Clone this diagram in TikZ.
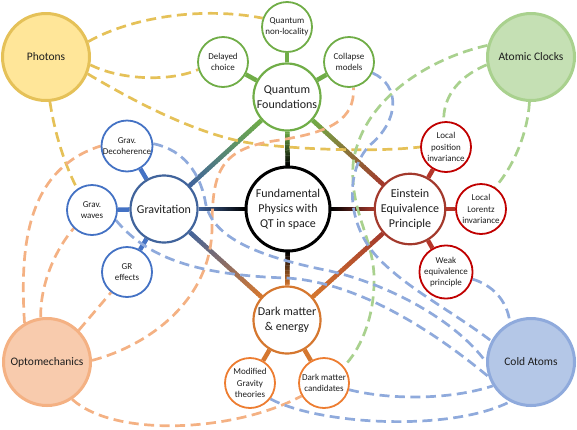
\documentclass[tikz,border=0pt]{standalone}
\usepackage{fontspec}
\setmainfont{Carlito}
\usetikzlibrary{calc}
\pgfdeclarelayer{bg}
\pgfsetlayers{bg,main}
\definecolor{txt}{HTML}{1E1E1E}
\definecolor{qfcol}{HTML}{70AD47}
\definecolor{gravcol}{HTML}{41649C}
\definecolor{gravsat}{HTML}{4472C4}
\definecolor{eepcol}{HTML}{A3392C}
\definecolor{eepsat}{HTML}{C00000}
\definecolor{eepstub}{HTML}{B5362A}
\definecolor{dmcol}{HTML}{D5772F}
\definecolor{dmsat}{HTML}{ED7D31}
\definecolor{phfill}{HTML}{FFE699}
\definecolor{phline}{HTML}{E5C158}
\definecolor{acfill}{HTML}{C5E0B4}
\definecolor{acline}{HTML}{A9D18E}
\definecolor{opfill}{HTML}{F8CBAD}
\definecolor{opline}{HTML}{F4B183}
\definecolor{cafill}{HTML}{B4C7E7}
\definecolor{caline}{HTML}{8FAADC}
\newcommand{\gradconn}[4]{%
  \path (#1) -- (#2) coordinate[pos=0] (gS) coordinate[pos=1] (gE);
  \foreach \i in {0,...,39}{
    \pgfmathsetmacro{\ta}{\i/40}
    \pgfmathsetmacro{\tb}{(\i+1.4)/40}
    \pgfmathtruncatemacro{\pc}{100-100*(\i+0.5)/40}
    \draw[line width=4.5pt, color=#3!\pc!#4] ($(gS)!\ta!(gE)$) -- ($(gS)!\tb!(gE)$);
  }%
}
\begin{document}
\begin{tikzpicture}[x=1pt,y=-1pt,
  every node/.style={text=txt},
  mainnode/.style={circle, draw, fill=white, line width=2.2pt, minimum size=67pt, inner sep=0pt, align=center, font=\fontsize{12}{15}\selectfont},
  hubnode/.style={mainnode, line width=3pt, minimum size=84pt, draw=black},
  satnode/.style={circle, draw, fill=white, line width=1.8pt, minimum size=50pt, inner sep=0pt, align=center, font=\fontsize{9}{11.3}\selectfont},
  cornernode/.style={circle, draw, line width=3pt, minimum size=87pt, inner sep=0pt, align=center, font=\fontsize{11.5}{14}\selectfont},
  dashconn/.style={line width=2.7pt, dash pattern=on 10pt off 5.5pt},
  stubconn/.style={line width=4.5pt},
]
\useasboundingbox (0,0) rectangle (577,429);

% main nodes
\node[hubnode] (c) at (288,209) {Fundamental\\Physics with\\QT in space};
\node[mainnode, draw=qfcol] (qf) at (287,97) {Quantum\\Foundations};
\node[mainnode, draw=gravcol] (gr) at (164,209) {Gravitation};
\node[mainnode, draw=eepcol] (eep) at (410,209) {Einstein\\Equivalence\\Principle};
\node[mainnode, draw=dmcol] (dm) at (287,320) {Dark matter\\\& energy};

% satellites
\node[satnode, draw=qfcol] (dc) at (223,62) {Delayed\\choice};
\node[satnode, draw=qfcol] (qnl) at (287,27) {Quantum\\non-locality};
\node[satnode, draw=qfcol] (cm) at (349,62) {Collapse\\models};
\node[satnode, draw=gravsat] (gd) at (127,146) {Grav.\\Decoherence};
\node[satnode, draw=gravsat] (gw) at (92,210) {Grav.\\waves};
\node[satnode, draw=gravsat] (gre) at (127,272) {GR\\effects};
\node[satnode, draw=eepsat] (lpi) at (446,147) {Local\\position\\invariance};
\node[satnode, draw=eepsat] (lli) at (481,209) {Local\\Lorentz\\invariance};
\node[satnode, draw=eepsat] (wep) at (446,272) {Weak\\equivalence\\principle};
\node[satnode, draw=dmsat] (mg) at (250,383) {Modified\\Gravity\\theories};
\node[satnode, draw=dmsat] (dmc) at (324,383) {Dark matter\\candidates};

% corner nodes
\node[cornernode, draw=phline, fill=phfill] (ph) at (46,57) {Photons};
\node[cornernode, draw=acline, fill=acfill] (ac) at (531,57) {Atomic Clocks};
\node[cornernode, draw=opline, fill=opfill] (op) at (47,362) {Optomechanics};
\node[cornernode, draw=caline, fill=cafill] (ca) at (531,362) {Cold Atoms};

\begin{pgfonlayer}{bg}
% gradient main connectors
\gradconn{qf}{c}{qfcol}{black}
\gradconn{gr}{c}{gravcol}{black}
\gradconn{eep}{c}{eepcol}{black}
\gradconn{dm}{c}{dmcol}{black}
\gradconn{qf}{gr}{qfcol}{gravcol}
\gradconn{qf}{eep}{qfcol}{eepcol}
\gradconn{gr}{dm}{gravcol}{dmcol}
\gradconn{eep}{dm}{eepcol}{dmcol}

% stubs
\draw[stubconn, qfcol] (qf) -- (dc);
\draw[stubconn, qfcol] (qf) -- (qnl);
\draw[stubconn, qfcol] (qf) -- (cm);
\draw[stubconn, gravsat] (gr) -- (gd);
\draw[stubconn, gravsat] (gr) -- (gw);
\draw[stubconn, gravsat] (gr) -- (gre);
\draw[stubconn, eepstub] (eep) -- (lpi);
\draw[stubconn, eepstub] (eep) -- (lli);
\draw[stubconn, eepstub] (eep) -- (wep);
\draw[stubconn, dmcol] (dm) -- (mg);
\draw[stubconn, dmcol] (dm) -- (dmc);

% yellow: Photons
\draw[dashconn, phline] (ph.20) .. controls (130,18) and (200,6) .. (qnl.160);
\draw[dashconn, phline] (ph.-10) .. controls (120,80) and (170,82) .. (dc.197);
\draw[dashconn, phline] (ph.-22) .. controls (140,105) and (200,135) .. (250,143)
  .. controls (300,150) and (380,152) .. (lpi.180);
\draw[dashconn, phline] (ph.-85) .. controls (55,135) and (65,165) .. (gw.125);

% green: Atomic Clocks
\draw[dashconn, acline] (ac.190) .. controls (455,78) and (443,100) .. (lpi.95);
\draw[dashconn, acline] (ac.-92) .. controls (528,130) and (515,165) .. (lli.57);
\draw[dashconn, acline] (ac.165) .. controls (430,58) and (360,100) .. (353,165)
  .. controls (350,215) and (376,240) .. (374,285)
  .. controls (373,320) and (360,350) .. (dmc.40);

% orange: Optomechanics
\draw[dashconn, opline] (op.120) .. controls (20,250) and (25,170) .. (gd.180);
\draw[dashconn, opline] (op.98) .. controls (40,285) and (55,250) .. (gw.225);
\draw[dashconn, opline] (op.45) -- (gre.232);
\draw[dashconn, opline] (op.2) .. controls (150,345) and (210,300) .. (212,230)
  .. controls (212,170) and (220,148) .. (280,140)
  .. controls (330,132) and (355,120) .. (cm.-80);
\draw[dashconn, opline] (op.-56) .. controls (115,438) and (235,432) .. (dmc.210);

% blue: Cold Atoms
\draw[dashconn, caline] (wep.-15) .. controls (492,285) and (507,300) .. (ca.118);
\draw[dashconn, caline] (cm.-25) .. controls (400,85) and (400,120) .. (370,145)
  .. controls (345,170) and (345,225) .. (380,260)
  .. controls (410,290) and (450,310) .. (ca.152);
\draw[dashconn, caline] (gd.5) .. controls (185,150) and (200,175) .. (205,200)
  .. controls (210,235) and (250,255) .. (330,271)
  .. controls (390,285) and (455,320) .. (ca.180);
\draw[dashconn, caline] (gw.-23) .. controls (145,255) and (190,275) .. (287,278)
  .. controls (350,282) and (420,320) .. (ca.199);
\draw[dashconn, caline] (dmc.-15) .. controls (390,400) and (450,400) .. (ca.212);
\draw[dashconn, caline] (mg.-38) .. controls (320,425) and (450,432) .. (ca.242);
\end{pgfonlayer}
\end{tikzpicture}
\end{document}
